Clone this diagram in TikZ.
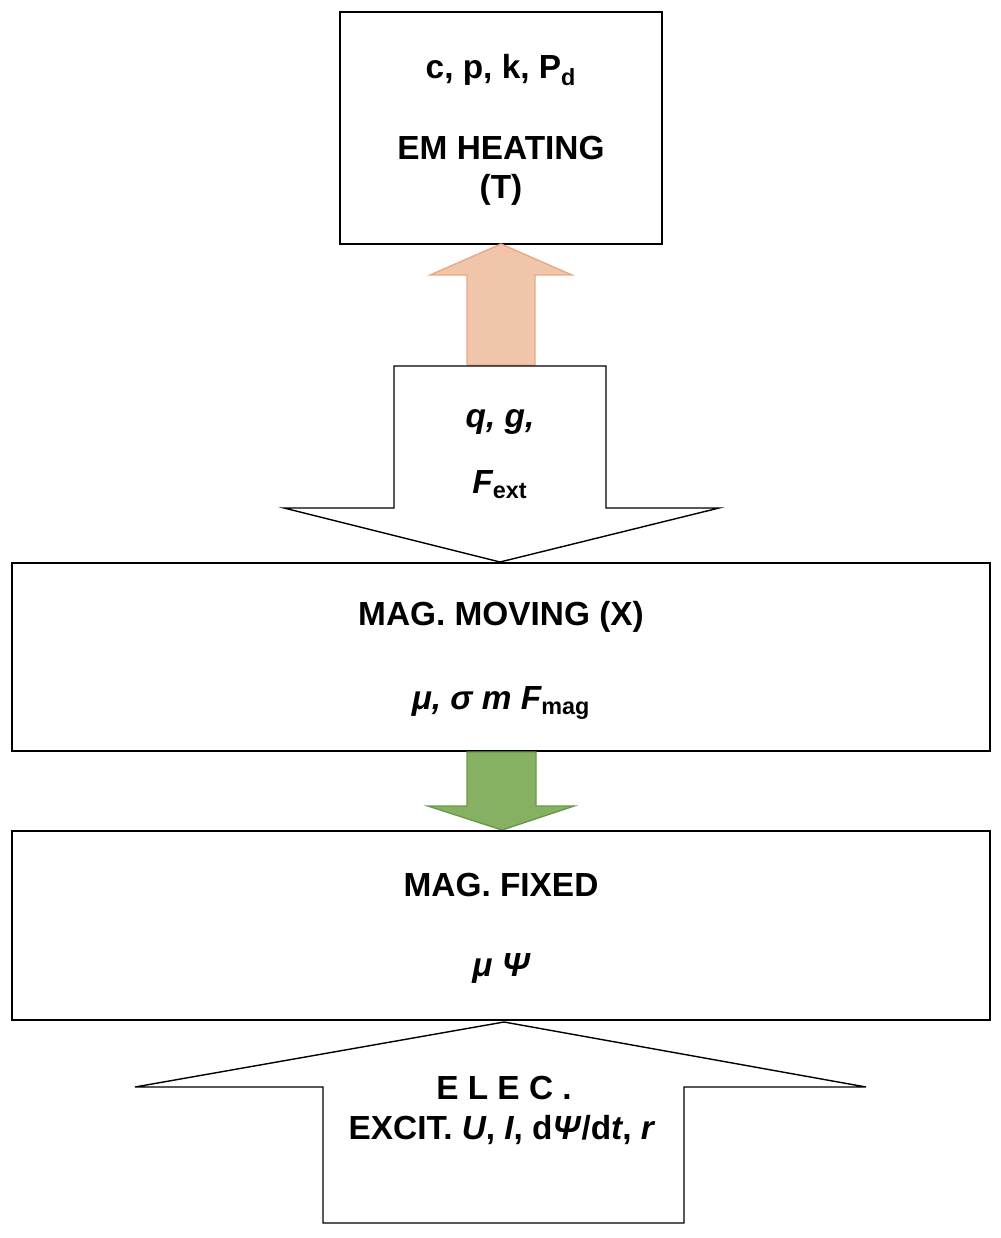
\documentclass[tikz,border=0pt]{standalone}
\usepackage{fontspec}
\setmainfont{Liberation Sans}
\definecolor{peach}{HTML}{F1C5AA}
\definecolor{peachd}{HTML}{E8A987}
\definecolor{leaf}{HTML}{86B163}
\definecolor{leafd}{HTML}{6A9A48}
\begin{document}
\begin{tikzpicture}[x=0.02cm,y=-0.02cm,
  box/.style={draw=black,line width=0.8pt,fill=white},
  lbl/.style={font=\fontsize{19}{22}\selectfont\bfseries,inner sep=0pt}]
\useasboundingbox (0,0) rectangle (1001,1238);
% top box
\draw[box] (340,12) rectangle (662,244);
\node[lbl] (t1) at (501,70) {c, p, k, P\textsubscript{d}};
\node[lbl] (t2) at (501,148) {EM HEATING};
\node[lbl] (t3) at (501,190) {(T)};
% orange arrow
\draw[draw=peachd,fill=peach,line width=0.8pt]
  (467,365) -- (467,275) -- (430,275) -- (501,244) -- (572,275) -- (535,275) -- (535,365) -- cycle;
% big down arrow
\draw[box] (394,366) -- (606,366) -- (606,508) -- (719,508) -- (500,562) -- (284,508) -- (394,508) -- cycle;
\node[lbl] (q) at (500,422) {\itshape q, g,};
\node[lbl] (f) at (500,485) {\itshape F\textsubscript{\upshape ext}};
% mag moving
\draw[box] (12,563) rectangle (990,751);
\node[lbl] (m1) at (501,617) {MAG. MOVING (X)};
\node[lbl] (m2) at (501,703) {\itshape μ, σ m F\textsubscript{\upshape mag}};
% green arrow
\draw[draw=leafd,fill=leaf,line width=0.8pt]
  (467,752) -- (536,752) -- (536,806) -- (574,806) -- (502,830) -- (428,806) -- (467,806) -- cycle;
% mag fixed
\draw[box] (12,831) rectangle (990,1020);
\node[lbl] (x1) at (501,885) {MAG. FIXED};
\node[lbl] (x2) at (501,968) {\itshape μ Ψ};
% bottom arrow
\draw[box] (504,1022) -- (866,1087) -- (684,1087) -- (684,1223) -- (323,1223) -- (323,1087) -- (135,1087) -- cycle;
\node[lbl] (e1) at (504,1088) {E L E C .};
\node[lbl] (e2) at (502,1130) {EXCIT. \textit{U}, \textit{I}, d\textit{Ψ}/d\textit{t}, \textit{r}};
\end{tikzpicture}
\end{document}
